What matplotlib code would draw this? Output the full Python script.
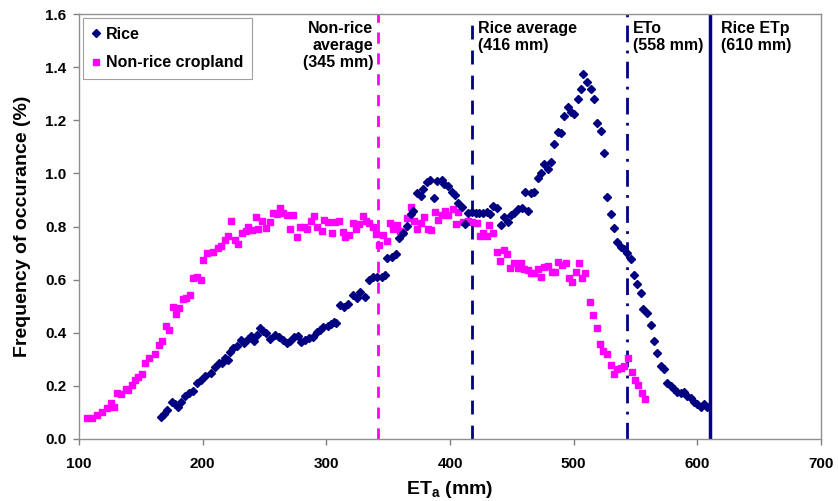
import matplotlib
matplotlib.use("Agg")
import matplotlib.pyplot as plt
from matplotlib.lines import Line2D

plt.rcParams['font.family'] = ['Liberation Sans', 'DejaVu Sans']
plt.rcParams['mathtext.fontset'] = 'custom'
plt.rcParams['mathtext.rm'] = 'Liberation Sans'
plt.rcParams['mathtext.bf'] = 'Liberation Sans:bold'

# Non-rice cropland: ETa (mm) vs frequency (%)
nonrice_x = [106.7, 110.8, 114.8, 118.8, 122.9, 125.6, 128.3, 130.9, 133.7, 137.7,
             139.9, 142.6, 145.3, 147.9, 150.6, 153.4, 156.6, 161.4, 164.7, 167.3,
             170.6, 172.8, 176.0, 178.7, 180.8, 184.3, 186.7, 189.7, 192.2, 195.1,
             198.4, 200.5, 203.2, 208.6, 212.1, 214.8, 218.0, 220.7, 222.9, 226.1,
             228.8, 232.0, 234.8, 236.9, 240.1, 242.8, 245.0, 248.2, 250.9, 254.4,
             257.1, 259.8, 262.5, 265.2, 267.9, 270.6, 273.3, 276.5, 278.7, 281.9,
             284.6, 287.3, 290.0, 292.6, 296.2, 298.3, 301.0, 304.3, 307.0, 310.4,
             313.1, 315.0, 318.5, 321.2, 323.9, 326.6, 329.3, 332.0, 334.7, 337.4,
             340.1, 342.8, 345.5, 348.8, 351.4, 354.1, 356.8, 359.5, 362.2, 365.5,
             368.2, 370.8, 373.5, 376.3, 379.2, 381.9, 384.6, 387.8, 390.5, 393.2,
             395.9, 398.6, 402.2, 404.8, 406.7, 410.7, 414.2, 418.0, 421.5, 424.2,
             426.9, 429.6, 431.7, 435.0, 437.7, 440.4, 443.6, 445.8, 448.5, 452.0,
             454.7, 457.4, 460.1, 462.8, 465.5, 468.2, 470.9, 473.6, 476.3, 479.5,
             482.3, 485.0, 487.6, 490.4, 493.6, 496.1, 498.9, 501.6, 504.2, 506.9,
             509.1, 513.1, 515.8, 518.6, 521.2, 523.9, 527.1, 529.9, 532.5, 535.2,
             538.0, 540.9, 543.6, 546.9, 549.5, 552.2, 555.0, 557.6]
nonrice_y = [0.078, 0.078, 0.090, 0.100, 0.115, 0.134, 0.120, 0.174, 0.170, 0.190,
             0.184, 0.203, 0.222, 0.235, 0.245, 0.285, 0.306, 0.320, 0.354, 0.370,
             0.425, 0.410, 0.498, 0.470, 0.492, 0.526, 0.532, 0.542, 0.605, 0.611,
             0.598, 0.674, 0.700, 0.705, 0.718, 0.727, 0.749, 0.764, 0.822, 0.749,
             0.734, 0.777, 0.784, 0.797, 0.787, 0.835, 0.790, 0.822, 0.793, 0.818,
             0.850, 0.847, 0.869, 0.850, 0.843, 0.790, 0.843, 0.760, 0.800, 0.797,
             0.790, 0.822, 0.840, 0.800, 0.784, 0.825, 0.818, 0.774, 0.818, 0.822,
             0.781, 0.762, 0.768, 0.814, 0.790, 0.810, 0.840, 0.822, 0.812, 0.797,
             0.772, 0.730, 0.768, 0.747, 0.814, 0.790, 0.806, 0.784, 0.781, 0.831,
             0.872, 0.822, 0.790, 0.814, 0.837, 0.790, 0.787, 0.856, 0.825, 0.843,
             0.860, 0.843, 0.865, 0.810, 0.856, 0.818, 0.822, 0.818, 0.814, 0.764,
             0.774, 0.764, 0.806, 0.774, 0.705, 0.671, 0.712, 0.697, 0.643, 0.661,
             0.643, 0.664, 0.639, 0.636, 0.626, 0.626, 0.639, 0.611, 0.646, 0.651,
             0.630, 0.630, 0.668, 0.655, 0.661, 0.605, 0.592, 0.630, 0.661, 0.605,
             0.624, 0.517, 0.467, 0.417, 0.358, 0.332, 0.320, 0.279, 0.245, 0.262,
             0.266, 0.275, 0.304, 0.253, 0.222, 0.203, 0.174, 0.150]

# Rice: ETa (mm) vs frequency (%)
rice_x = [166.0, 168.7, 171.4, 174.9, 177.6, 180.3, 182.2, 185.7, 188.9, 192.2,
          195.6, 198.4, 201.9, 206.7, 209.9, 213.2, 215.8, 218.0, 220.2, 222.1,
          224.7, 227.5, 231.0, 233.6, 236.4, 239.0, 241.8, 243.6, 246.3, 249.0,
          250.9, 254.4, 258.4, 261.7, 265.2, 267.9, 270.6, 274.1, 276.8, 279.5,
          282.7, 285.9, 289.4, 292.1, 294.8, 297.5, 301.1, 303.7, 306.4, 307.8,
          311.0, 314.3, 317.7, 321.3, 324.5, 327.2, 331.2, 334.7, 338.0, 341.2,
          344.8, 347.4, 349.3, 352.9, 356.3, 359.0, 361.8, 365.5, 368.2, 370.4,
          373.5, 376.3, 378.4, 381.6, 383.8, 387.0, 389.7, 393.2, 395.1, 398.6,
          401.3, 404.0, 406.7, 409.5, 412.1, 414.8, 418.0, 420.8, 423.4, 426.9,
          429.6, 432.3, 435.0, 437.7, 441.0, 443.9, 446.6, 449.3, 452.0, 455.2,
          458.0, 460.6, 462.8, 465.5, 468.2, 470.9, 473.6, 476.3, 479.0, 481.7,
          484.4, 487.2, 489.9, 492.5, 495.3, 497.9, 500.6, 503.4, 506.0, 507.9,
          510.9, 513.7, 516.3, 519.0, 521.8, 524.4, 527.1, 529.9, 532.5, 535.2,
          538.0, 540.7, 543.4, 546.2, 548.7, 551.4, 554.2, 556.3, 559.1, 562.3,
          565.0, 567.6, 570.4, 573.0, 575.8, 578.5, 581.2, 583.9, 586.6, 589.3,
          592.0, 594.8, 597.4, 600.1, 602.9, 605.6, 608.2]
rice_y = [0.084, 0.094, 0.109, 0.140, 0.132, 0.122, 0.140, 0.162, 0.172, 0.182,
          0.210, 0.222, 0.237, 0.250, 0.270, 0.285, 0.287, 0.304, 0.297, 0.329,
          0.341, 0.350, 0.373, 0.363, 0.375, 0.388, 0.370, 0.392, 0.417, 0.408,
          0.398, 0.375, 0.392, 0.385, 0.373, 0.360, 0.370, 0.383, 0.388, 0.366,
          0.373, 0.379, 0.385, 0.404, 0.410, 0.420, 0.425, 0.433, 0.441, 0.438,
          0.505, 0.498, 0.510, 0.542, 0.530, 0.555, 0.536, 0.598, 0.611, 0.611,
          0.611, 0.617, 0.680, 0.687, 0.697, 0.756, 0.774, 0.803, 0.847, 0.860,
          0.925, 0.915, 0.940, 0.969, 0.975, 0.906, 0.972, 0.975, 0.960, 0.953,
          0.931, 0.919, 0.887, 0.875, 0.810, 0.850, 0.856, 0.850, 0.852, 0.850,
          0.856, 0.847, 0.877, 0.869, 0.806, 0.837, 0.818, 0.843, 0.852, 0.865,
          0.869, 0.931, 0.860, 0.925, 0.931, 0.982, 1.003, 1.035, 1.015, 1.044,
          1.111, 1.157, 1.153, 1.216, 1.251, 1.232, 1.224, 1.279, 1.317, 1.374,
          1.345, 1.317, 1.279, 1.191, 1.161, 1.076, 0.910, 0.847, 0.793, 0.743,
          0.722, 0.714, 0.699, 0.677, 0.617, 0.584, 0.551, 0.488, 0.476, 0.429,
          0.370, 0.323, 0.275, 0.262, 0.212, 0.200, 0.187, 0.178, 0.174, 0.178,
          0.162, 0.153, 0.140, 0.132, 0.122, 0.132, 0.119]

# reference lines (where they are drawn) and their labels
linea_x = [342, 418, 543, 610]
linea_txt = ['Non-rice\naverage\n(345 mm)', 'Rice average\n(416 mm)',
             'ETo\n(558 mm)', 'Rice ETp\n(610 mm)']

navy = '#000080'
pink = '#FF00FF'

fig = plt.figure(figsize=(8.38, 5.01), dpi=100)
ax = fig.add_axes([0.0943, 0.1238, 0.8854, 0.8482])

ax.plot(nonrice_x, nonrice_y, ls='none', marker='s', ms=5, color=pink,
        mec=pink, label='Non-rice cropland', zorder=3)
ax.plot(rice_x, rice_y, ls='none', marker='D', ms=4.5, color=navy,
        mec=navy, label='Rice', zorder=4)

ax.axvline(linea_x[0], color=pink, lw=2, ls=(0, (4, 3.5)), zorder=2)
ax.axvline(linea_x[1], color=navy, lw=2, ls=(0, (5, 4)), zorder=2)
ax.axvline(linea_x[2], color=navy, lw=2, ls=(0, (6, 3, 1, 3)), zorder=2)
ax.axvline(linea_x[3], color=navy, lw=2.5, ls='-', zorder=2)

txt_kw = dict(fontsize=11.5, fontweight='bold', linespacing=1.2, va='top')
ax.text(linea_x[0] - 4, 1.575, linea_txt[0], ha='right', **txt_kw)
ax.text(linea_x[1] + 5, 1.575, linea_txt[1], ha='left', **txt_kw)
ax.text(linea_x[2] + 5, 1.575, linea_txt[2], ha='left', **txt_kw)
ax.text(linea_x[3] + 9, 1.575, linea_txt[3], ha='left', **txt_kw)

ax.set_xlim(100, 700)
ax.set_ylim(0, 1.6)
ax.set_xticks(range(100, 701, 100))
ax.set_yticks([i * 0.2 for i in range(9)])
ax.set_yticklabels([f'{i * 0.2:.1f}' for i in range(9)])
ax.tick_params(direction='out', length=4, width=1, color='#808080',
               labelsize=11, pad=5)
ax.tick_params(axis='x', pad=9)
for lab in ax.get_xticklabels() + ax.get_yticklabels():
    lab.set_fontweight('bold')
for s in ax.spines.values():
    s.set_color('#909090')
    s.set_linewidth(1)

ax.set_xlabel(r'$\mathbf{ET_a}$ (mm)', fontsize=14, fontweight='bold', labelpad=6)
ax.set_ylabel('Frequency of occurance (%)', fontsize=14, fontweight='bold', labelpad=10)

handles = [Line2D([], [], ls='none', marker='D', ms=4.5, color=navy),
           Line2D([], [], ls='none', marker='s', ms=5, color=pink)]
leg = ax.legend(handles, ['Rice', 'Non-rice cropland'], loc='upper left',
                bbox_to_anchor=(0.0054, 0.9906), borderaxespad=0,
                fancybox=False, framealpha=1,
                edgecolor='#a0a0a0', prop={'weight': 'bold', 'size': 11.5},
                handlelength=0.5, handletextpad=0.4, labelspacing=0.85,
                borderpad=0.55)
leg.get_frame().set_linewidth(0.8)

fig.savefig('out.png', dpi=100)
